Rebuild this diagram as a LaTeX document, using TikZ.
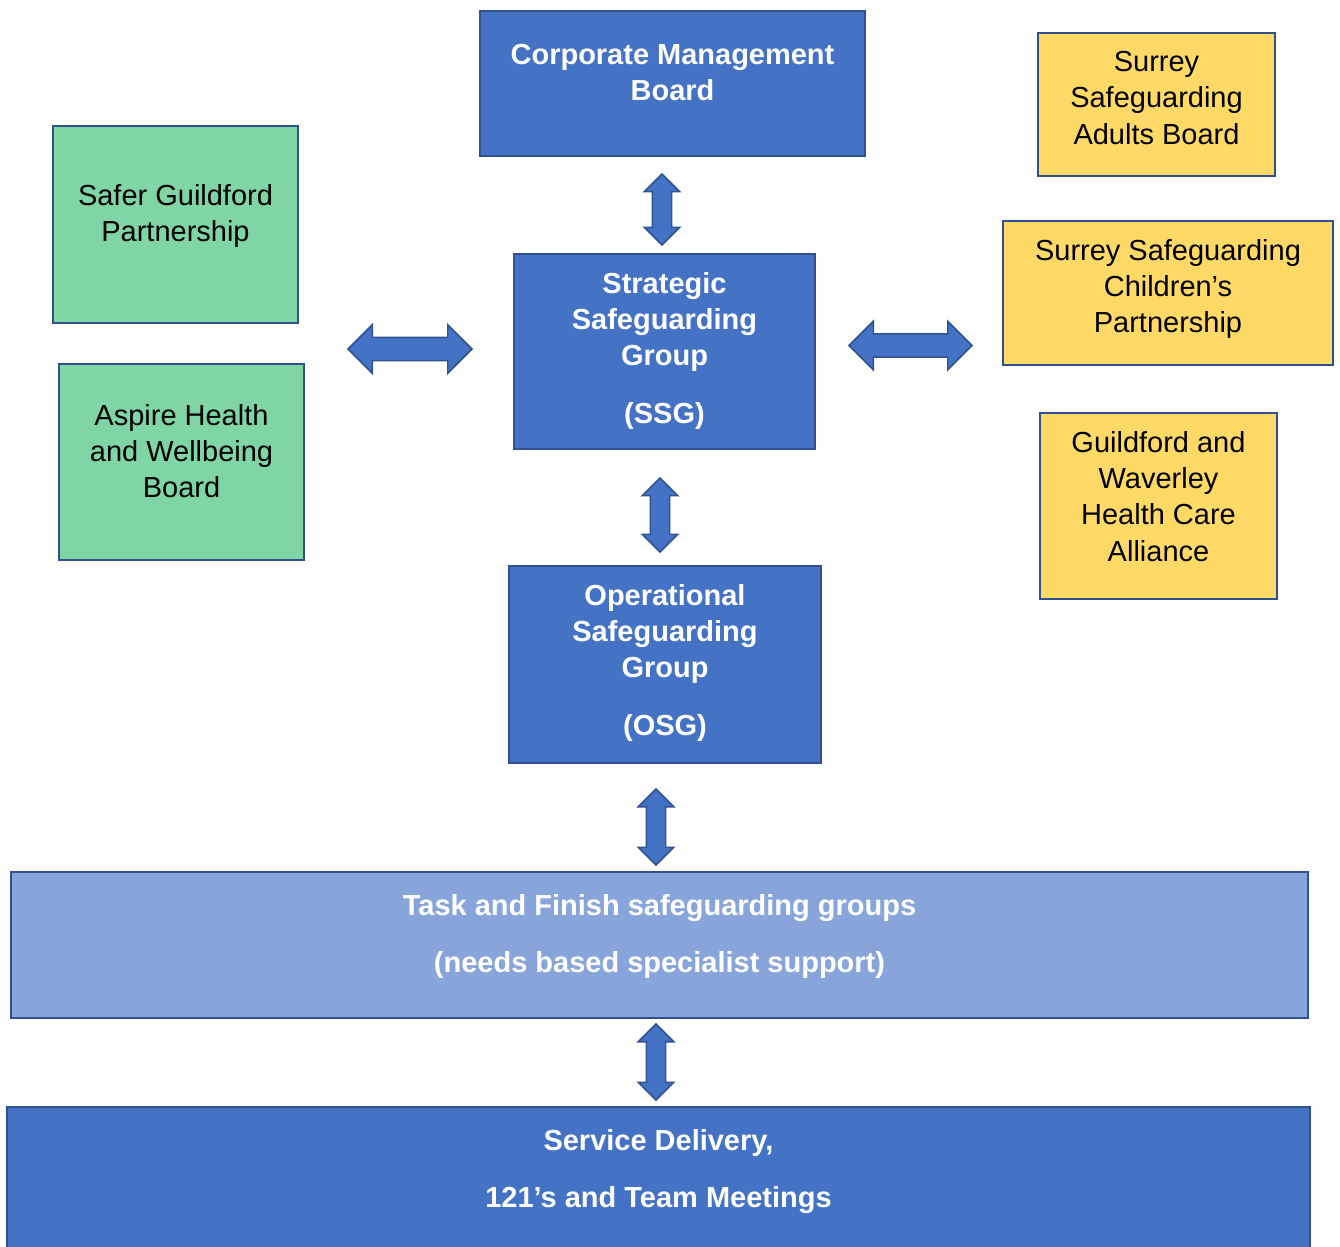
\documentclass[tikz,border=0pt]{standalone}
\usepackage{fontspec}
\setmainfont{Liberation Sans}
\usepackage{xcolor}
\usepackage{tikz}
\usetikzlibrary{positioning, shapes.arrows}
\definecolor{boxBlue}{HTML}{4472C4}
\definecolor{edgeBlue}{HTML}{2F528F}
\definecolor{paleBlue}{HTML}{87A5DA}
\definecolor{boxGreen}{HTML}{7FD6A4}
\definecolor{boxYellow}{HTML}{FFD966}

\begin{document}
\begin{tikzpicture}[x=0.02cm, y=-0.02cm,
    box/.style={draw=edgeBlue, line width=1.1pt, inner sep=0pt},
    bluebox/.style={box, fill=boxBlue},
    palebox/.style={box, fill=paleBlue},
    greenbox/.style={box, fill=boxGreen},
    yellowbox/.style={box, fill=boxYellow},
    txt/.style={inner sep=0pt, outer sep=0pt, align=center,
      font=\fontsize{16.5}{20.7}\selectfont},
    wtxt/.style={txt, text=white, font=\fontsize{16.5}{20.7}\selectfont\bfseries},
    btxt/.style={txt, text=black},
    varr/.style={double arrow, draw=edgeBlue, fill=boxBlue, line width=0.85pt,
      rotate=90, inner xsep=0pt, inner ysep=0.18cm,
      double arrow head extend=0.16cm, minimum width=0.68cm},
    harr/.style={double arrow, draw=edgeBlue, fill=boxBlue, line width=0.85pt,
      inner xsep=0pt, inner ysep=0.22cm,
      double arrow head extend=0.25cm, minimum width=0.94cm}]
    \useasboundingbox (0,0) rectangle (1340,1247);
    % centre column
    \node[bluebox, minimum width=7.7cm, minimum height=2.9cm] (cmb) at (672.5,83.5) {};
    \node[wtxt, below=0.68cm of cmb.north] (cmbT) {Corporate Management\\Board};
    \node[bluebox, minimum width=6.02cm, minimum height=3.9cm] (ssg) at (664.5,351.5) {};
    \node[wtxt, below=0.38cm of ssg.north] (ssgT) {Strategic\\Safeguarding\\Group\\[0.43cm](SSG)};
    \node[bluebox, minimum width=6.24cm, minimum height=3.94cm] (osg) at (665,664.5) {};
    \node[wtxt, below=0.38cm of osg.north] (osgT) {Operational\\Safeguarding\\Group\\[0.43cm](OSG)};
    \node[palebox, minimum width=25.94cm, minimum height=2.92cm] (tfg) at (659.5,945) {};
    \node[wtxt, below=0.46cm of tfg.north] (tfgT) {Task and Finish safeguarding groups\\[0.43cm](needs based specialist support)};
    \node[bluebox, minimum width=26.06cm, minimum height=3.8cm] (sdm) at (658.5,1202) {};
    \node[wtxt, below=0.46cm of sdm.north] (sdmT) {Service Delivery,\\[0.43cm]121’s and Team Meetings};
    % left partners
    \node[greenbox, minimum width=4.9cm, minimum height=3.94cm] (sgp) at (175.5,224.5) {};
    \node[btxt, below=1.18cm of sgp.north] (sgpT) {Safer Guildford\\Partnership};
    \node[greenbox, minimum width=4.9cm, minimum height=3.92cm] (ahw) at (181.5,462) {};
    \node[btxt, below=0.82cm of ahw.north] (ahwT) {Aspire Health\\and Wellbeing\\Board};
    % right partners
    \node[yellowbox, minimum width=4.74cm, minimum height=2.86cm] (sab) at (1156.5,104.5) {};
    \node[btxt, below=0.38cm of sab.north] (sabT) {Surrey\\Safeguarding\\Adults Board};
    \node[yellowbox, minimum width=6.6cm, minimum height=2.88cm] (scp) at (1168,293) {};
    \node[btxt, below=0.38cm of scp.north] (scpT) {Surrey Safeguarding\\Children’s\\Partnership};
    \node[yellowbox, minimum width=4.74cm, minimum height=3.72cm] (gwa) at (1158.5,506) {};
    \node[btxt, below=0.38cm of gwa.north] (gwaT) {Guildford and\\Waverley\\Health Care\\Alliance};
    % block arrows
    \node[varr, minimum height=1.42cm] (cmbssg) at (662,209.5) {};
    \node[varr, minimum height=1.48cm] (ssgosg) at (660,515) {};
    \node[varr, minimum height=1.52cm] (osgtfg) at (656,827) {};
    \node[varr, minimum height=1.52cm] (tfgsdm) at (656,1062) {};
    \node[harr, minimum height=2.48cm] (leftlink) at (410,349) {};
    \node[harr, minimum height=2.46cm] (rightlink) at (910.5,345.5) {};
\end{tikzpicture}
\end{document}
